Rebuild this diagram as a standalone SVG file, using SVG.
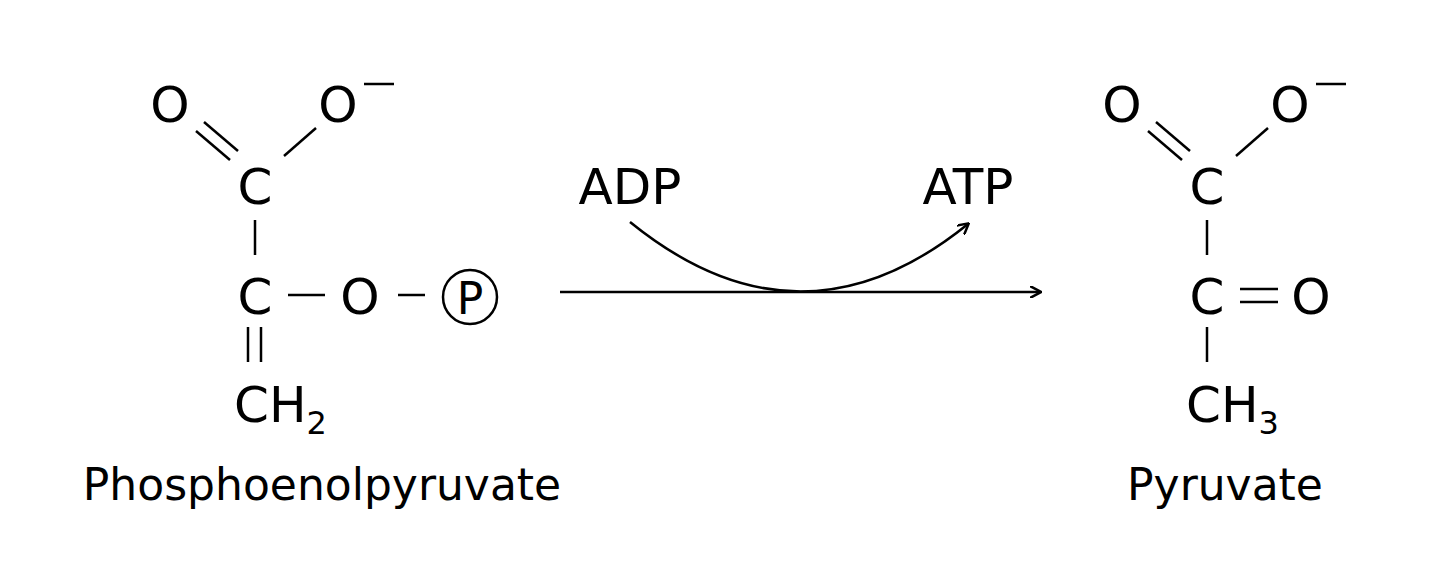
<svg xmlns="http://www.w3.org/2000/svg" width="1440" height="583" viewBox="0 0 1440 583">
<style>
text{font-family:"DejaVu Sans","Liberation Sans",sans-serif;fill:#000}
.a{font-size:50px;text-anchor:middle}
.s{font-size:32px}
.l{font-size:44px;text-anchor:middle}
.b{stroke:#000;stroke-width:2.5;fill:none}
</style>
<defs><marker id="ah" markerWidth="12" markerHeight="12" refX="10" refY="6" orient="auto" markerUnits="userSpaceOnUse"><path d="M0,0 L11,6 L0,12" fill="none" stroke="#000" stroke-width="2.5"/></marker></defs>
<rect width="1440" height="583" fill="#fff"/>
<g id="pep">
<text class="a" x="170" y="122">O</text>
<text class="a" x="338" y="122">O</text>
<line class="b" x1="364" y1="84" x2="394" y2="84"/>
<text class="a" x="255" y="204">C</text>
<line class="b" x1="196" y1="131" x2="230" y2="160"/>
<line class="b" x1="204" y1="122" x2="238" y2="151"/>
<line class="b" x1="316" y1="128" x2="284" y2="156"/>
<line class="b" x1="255" y1="220" x2="255" y2="255"/>
<text class="a" x="255" y="314">C</text>
<line class="b" x1="288" y1="295" x2="325" y2="295"/>
<text class="a" x="360" y="314">O</text>
<line class="b" x1="398" y1="295" x2="425" y2="295"/>
<circle class="b" cx="470" cy="297" r="27"/>
<text class="a" x="470" y="314" style="font-size:44px">P</text>
<line class="b" x1="248" y1="327" x2="248" y2="362"/>
<line class="b" x1="261" y1="327" x2="261" y2="362"/>
<text x="234" y="422" style="font-size:50px">CH<tspan class="s" dy="12">2</tspan></text>
<text class="l" x="322" y="500">Phosphoenolpyruvate</text>
</g>
<g id="pyr">
<text class="a" x="1122" y="122">O</text>
<text class="a" x="1290" y="122">O</text>
<line class="b" x1="1316" y1="84" x2="1346" y2="84"/>
<text class="a" x="1207" y="204">C</text>
<line class="b" x1="1148" y1="131" x2="1182" y2="160"/>
<line class="b" x1="1156" y1="122" x2="1190" y2="151"/>
<line class="b" x1="1268" y1="128" x2="1236" y2="156"/>
<line class="b" x1="1207" y1="220" x2="1207" y2="255"/>
<text class="a" x="1207" y="314">C</text>
<line class="b" x1="1240" y1="289" x2="1278" y2="289"/>
<line class="b" x1="1240" y1="302" x2="1278" y2="302"/>
<text class="a" x="1311" y="314">O</text>
<line class="b" x1="1207" y1="327" x2="1207" y2="362"/>
<text x="1186" y="422" style="font-size:50px">CH<tspan class="s" dy="12">3</tspan></text>
<text class="l" x="1225" y="500">Pyruvate</text>
</g>
<g id="labels">
<text class="a" x="630" y="204">ADP</text>
<text class="a" x="968" y="204">ATP</text>
</g>
<g id="connectors">
<line class="b" x1="560" y1="292" x2="1040" y2="292" marker-end="url(#ah)"/>
<path class="b" d="M630,222 Q800,360 968,224" marker-end="url(#ah)"/>
</g>
</svg>
